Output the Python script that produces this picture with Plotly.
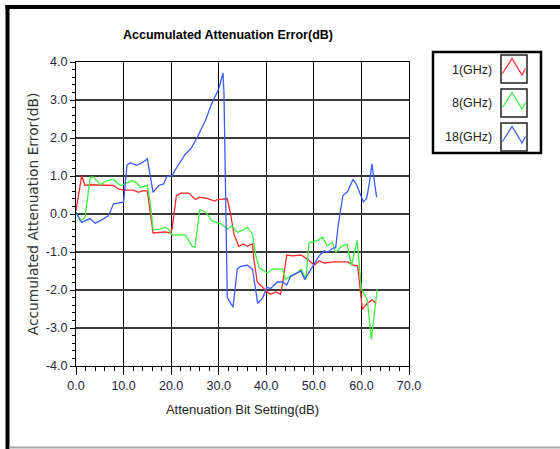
import plotly.graph_objects as go

# ---------------- data ----------------
series_names = ["1(GHz)", "8(GHz)", "18(GHz)"]
series_colors = ["#ff2a2a", "#3cf03c", "#3a5cff"]

x_1ghz = [0, 1.2, 1.9, 3.0, 7.9, 8.9, 10.0, 12.1, 13.1, 13.9, 15.0, 15.6, 16.2, 18.8, 19.8, 20.2,
          21.1, 22.0, 23.7, 25.1, 26.0, 27.6, 29.1, 29.7, 31.8, 32.5, 33.2, 34.2, 35.2, 36.0, 37.1,
          37.4, 38.1, 40.2, 40.9, 42.0, 43.0, 43.4, 44.3, 45.5, 47.3, 48.7, 50.1, 51.1, 52.2, 54.3,
          57.1, 58.5, 59.2, 60.2, 61.2, 62.3, 63.1]
y_1ghz = [0.09, 1.01, 0.75, 0.77, 0.75, 0.66, 0.63, 0.63, 0.57, 0.61, 0.61, 0.04, -0.50, -0.47, -0.50, -0.40,
          0.48, 0.55, 0.55, 0.38, 0.44, 0.41, 0.34, 0.38, 0.40, 0.0, -0.53, -0.85, -0.79, -0.85, -0.79,
          -1.19, -1.79, -2.05, -2.11, -2.05, -2.11, -1.85, -1.08, -1.10, -1.08, -1.19, -1.35, -1.23, -1.29, -1.26,
          -1.26, -1.36, -1.36, -2.51, -2.35, -2.26, -2.37]

x_8ghz = [0, 0.85, 1.9, 3.0, 3.7, 5.1, 6.5, 7.9, 9.3, 10.3, 11.7, 12.8, 13.5, 15.0, 15.6, 16.2, 17.7,
          18.8, 19.5, 20.2, 23.0, 24.4, 25.0, 26.0, 27.2, 28.6, 30.5, 31.8, 32.8, 33.9, 34.9, 36.0,
          37.1, 37.8, 38.5, 40.2, 41.3, 43.4, 44.1, 45.1, 46.6, 47.3, 48.3, 49.0, 50.7, 51.8, 52.8,
          53.9, 54.6, 55.2, 56.0, 57.0, 57.9, 58.4, 59.1, 60.0, 61.2, 62.1, 62.6, 63.3]
y_8ghz = [0.04, -0.18, -0.09, 0.97, 0.97, 0.77, 0.88, 0.91, 0.75, 0.79, 0.88, 0.82, 0.70, 0.75, 0.31, -0.41, -0.40,
          -0.35, -0.41, -0.55, -0.55, -0.85, -0.88, 0.11, 0.06, -0.18, -0.26, -0.40, -0.31, -0.48, -0.44, -0.35,
          -0.53, -1.10, -1.41, -1.56, -1.45, -1.45, -1.72, -1.63, -1.54, -1.45, -1.72, -0.75, -0.70, -0.61, -0.84,
          -0.75, -1.01, -0.92, -0.84, -0.79, -1.36, -1.06, -0.70, -1.98, -2.24, -3.30, -2.77, -1.98]

x_18ghz = [0, 1.2, 2.95, 4.0, 5.06, 6.8, 7.9, 10.0, 10.7, 11.4, 12.8, 13.9, 15.0, 15.4, 16.2, 17.4,
           18.4, 19.1, 20.2, 21.2, 23.0, 24.1, 25.5, 27.2, 28.6, 30.0, 30.9, 31.1, 31.4, 31.8, 33.0,
           33.9, 34.6, 36.0, 37.1, 38.2, 39.2, 40.1, 40.9, 42.3, 43.4, 44.3, 45.1, 46.6, 47.3, 48.1,
           49.4, 51.1, 52.2, 52.9, 53.7, 54.6, 55.1, 56.1, 57.1, 58.2, 58.9, 60.4, 61.1, 61.7, 62.2,
           62.6, 63.2]
y_18ghz = [0.04, -0.22, -0.12, -0.24, -0.18, -0.05, 0.27, 0.31, 1.28, 1.35, 1.28, 1.35, 1.45, 1.18, 0.57, 0.75,
           0.79, 0.99, 1.01, 1.23, 1.58, 1.71, 2.02, 2.46, 2.93, 3.29, 3.71, 3.20, 0.75, -2.20, -2.45,
           -1.45, -1.38, -1.35, -1.45, -2.35, -2.22, -1.93, -1.96, -1.79, -1.79, -1.87, -1.64, -1.54, -1.50, -1.72,
           -1.45, -1.10, -0.97, -1.01, -0.92, -0.88, -0.31, 0.48, 0.59, 0.91, 0.79, 0.32, 0.41, 0.84, 1.32,
           0.97, 0.44]

x_tickvals = [0, 10, 20, 30, 40, 50, 60, 70]
x_ticktext = ["0.0", "10.0", "20.0", "30.0", "40.0", "50.0", "60.0", "70.0"]
y_tickvals = [4, 3, 2, 1, 0, -1, -2, -3, -4]
y_ticktext = ["4.0", "3.0", "2.0", "1.0", "0.0", "-1.0", "-2.0", "-3.0", "-4.0"]

title_text = "Accumulated Attenuation Error(dB)"
x_title = "Attenuation Bit Setting(dB)"
y_title = "Accumulated Attenuation Error(dB)"

# ---------------- layout geometry ----------------
W, H = 560, 449
ML, MR, MT, MB = 76, 151, 62, 83
PW, PH = W - ML - MR, H - MT - MB


def px(xp):
    return (xp - ML) / PW


def py(yp):
    return (H - MB - yp) / PH


fig = go.Figure()
for name, color, xs, ys in zip(series_names, series_colors,
                               [x_1ghz, x_8ghz, x_18ghz], [y_1ghz, y_8ghz, y_18ghz]):
    fig.add_trace(go.Scatter(x=xs, y=ys, mode="lines", name=name,
                             line=dict(color=color, width=1.3), showlegend=False))

tick_font = dict(family="Liberation Sans, Arial, sans-serif", size=12.5, color="#1e1e3c")

fig.update_xaxes(range=[0, 70], tickvals=x_tickvals, ticktext=x_ticktext,
                 showgrid=True, gridcolor="#000000", gridwidth=1.2,
                 showline=True, linecolor="#000000", linewidth=1.2, mirror=True,
                 ticks="outside", ticklen=8, tickcolor="#000000", tickwidth=1,
                 minor=dict(dtick=2, ticks="outside", ticklen=4, tickcolor="#000000", showgrid=False),
                 zeroline=False, tickfont=tick_font,
                 title=dict(text=x_title, font=dict(family="Liberation Sans, Arial", size=13, color="#222222"),
                            standoff=12))
fig.update_yaxes(range=[-4, 4], tickvals=y_tickvals, ticktext=y_ticktext,
                 showgrid=True, gridcolor="#3a3a3a", gridwidth=2,
                 showline=True, linecolor="#000000", linewidth=1.2, mirror=True,
                 ticks="outside", ticklen=5, tickcolor="#000000", tickwidth=1,
                 minor=dict(dtick=0.2, ticks="outside", ticklen=3, tickcolor="#000000", showgrid=False),
                 zeroline=False, tickfont=tick_font,
                 title=dict(text=y_title, font=dict(family="DejaVu Sans, Verdana", size=13.8, color="#333333"),
                            standoff=4))

shapes = []
# outer frame
shapes.append(dict(type="line", xref="paper", yref="paper", x0=px(7.5), x1=px(7.5), y0=py(5), y1=py(449),
                   line=dict(color="#000000", width=4)))
shapes.append(dict(type="line", xref="paper", yref="paper", x0=px(5.5), x1=px(560), y0=py(7), y1=py(7),
                   line=dict(color="#000000", width=4)))
shapes.append(dict(type="line", xref="paper", yref="paper", x0=px(9), x1=px(560), y0=py(447.5), y1=py(447.5),
                   line=dict(color="#a8a8a8", width=2)))
# legend box
shapes.append(dict(type="rect", xref="paper", yref="paper", x0=px(433), x1=px(541), y0=py(52), y1=py(153),
                   line=dict(color="#000000", width=2.5), fillcolor="white", layer="below"))

annotations = []
box_tops = [55, 89, 123]
label_y = [70, 103, 137]
for name, color, top, ly in zip(series_names, series_colors, box_tops, label_y):
    shapes.append(dict(type="rect", xref="paper", yref="paper", x0=px(501), x1=px(527),
                       y0=py(top), y1=py(top + 28), line=dict(color="#202020", width=1.5)))
    pts = [(502.5, top + 18.5), (512, top + 3.5), (522, top + 20), (525.5, top + 13.5)]
    path = "M " + " L ".join(f"{px(a):.5f},{py(b):.5f}" for a, b in pts)
    shapes.append(dict(type="path", xref="paper", yref="paper", path=path,
                       line=dict(color=color, width=1.2)))
    annotations.append(dict(xref="paper", yref="paper", x=px(494), y=py(ly), text=name,
                            showarrow=False, xanchor="right", yanchor="middle",
                            font=dict(family="Liberation Sans, Arial", size=12.5, color="#222222")))

fig.update_layout(
    width=W, height=H,
    margin=dict(l=ML, r=MR, t=MT, b=MB, autoexpand=False),
    paper_bgcolor="white", plot_bgcolor="white",
    title=dict(text="<b>" + title_text + "</b>", x=228 / W, xanchor="center",
               y=1 - 35 / H, yanchor="middle",
               font=dict(family="Liberation Sans, Arial", size=12.5, color="#000000")),
    shapes=shapes, annotations=annotations, showlegend=False,
)

fig.write_html("out.html")
